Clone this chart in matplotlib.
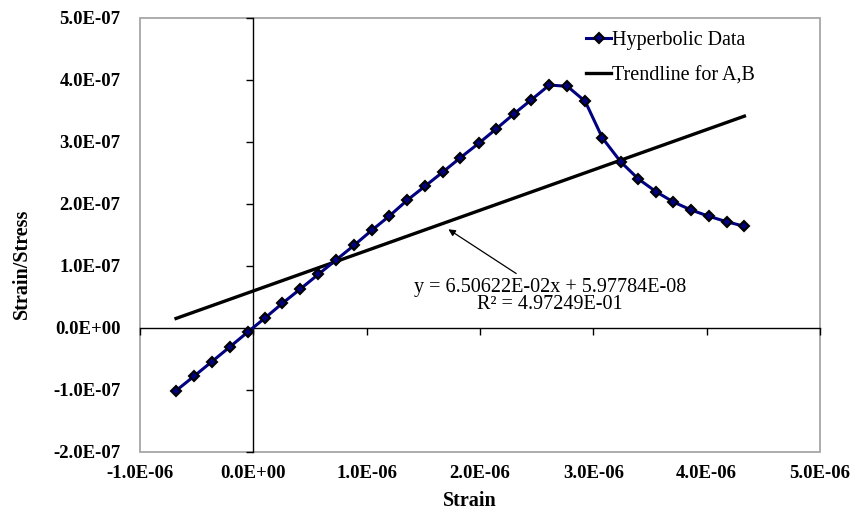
import numpy as np
import matplotlib
matplotlib.use("Agg")
import matplotlib.pyplot as plt
from matplotlib.patches import Rectangle
from matplotlib.ticker import FuncFormatter

# measured strain and the strain/stress ratio
strain = [-0.682, -0.521, -0.367, -0.208, -0.049, 0.106, 0.256, 0.415, 0.574, 0.730,
          0.889, 1.045, 1.200, 1.357, 1.513, 1.672, 1.827, 1.989, 2.142, 2.298,
          2.454, 2.612, 2.771, 2.928, 3.080, 3.243, 3.398, 3.557, 3.707, 3.863,
          4.019, 4.175, 4.333]
ratio = [-1.011, -0.774, -0.544, -0.306, -0.065, 0.166, 0.398, 0.630, 0.866, 1.097,
         1.334, 1.576, 1.806, 2.060, 2.285, 2.516, 2.747, 2.979, 3.210, 3.452,
         3.682, 3.919, 3.898, 3.656, 3.065, 2.677, 2.403, 2.194, 2.032, 1.903,
         1.802, 1.715, 1.640]
x = np.array(strain) * 1e-6
y = np.array(ratio) * 1e-7

# linear fit A,B
slope = 6.50622e-02
intercept = 5.97784e-08
r2 = 4.97249e-01

xticks = np.arange(-1, 5.01, 1) * 1e-6
yticks = np.arange(-2, 5.01, 1) * 1e-7

plt.rcParams["font.family"] = ["Liberation Serif", "DejaVu Serif"]

W, H = 857, 514
fig = plt.figure(figsize=(W / 100, H / 100), dpi=100)
ax = fig.add_axes([140 / W, 1 - 452 / H, 680 / W, 434 / H])
ax.set_xlim(-1e-6, 5e-6)
ax.set_ylim(-2e-7, 5e-7)

# grey plot-area frame
for s in ["top", "right"]:
    ax.spines[s].set_visible(False)
ax.add_patch(Rectangle((0, 0), 1, 1, transform=ax.transAxes, fill=False,
                       edgecolor="#a6a6a6", lw=1.3, clip_on=False, zorder=1))

# axes through the origin
for s in ["left", "bottom"]:
    ax.spines[s].set_position(("data", 0))
    ax.spines[s].set_color("black")
    ax.spines[s].set_linewidth(1.0)
ax.set_xticks(xticks)
ax.set_yticks(yticks)
ax.tick_params(direction="out", length=5, width=1, colors="black",
               labelbottom=False, labelleft=False)

fmt = FuncFormatter(lambda v, p: f"{v:.1E}")
secx = ax.secondary_xaxis(0)
secx.set_xticks(xticks)
secx.xaxis.set_major_formatter(fmt)
secx.tick_params(length=0, pad=9, labelsize=13.5)
secx.spines["bottom"].set_visible(False)
secy = ax.secondary_yaxis(0)
secy.set_yticks(yticks)
secy.yaxis.set_major_formatter(fmt)
secy.tick_params(length=0, pad=14, labelsize=13.5)
secy.spines["left"].set_visible(False)
for lab in secx.get_xticklabels() + secy.get_yticklabels():
    lab.set_fontweight("bold")

ax.plot(x, y, color="#000080", lw=2.2, marker="D", ms=5.2, mfc="#000080",
        mec="black", mew=1.5, label="Hyperbolic Data", zorder=4)
xt = np.array([x.min(), x.max()])
ax.plot(xt, slope * xt + intercept, color="black", lw=2.4,
        label="Trendline for A,B", zorder=3)

ax.annotate(f"y = {slope:.5E}x + {intercept:.5E}\nR² = {r2:.5E}",
            xy=(1.721e-6, 1.592e-7), xytext=(2.62e-6, 0.52e-7),
            ha="center", va="center", fontsize=14.5, linespacing=0.85,
            arrowprops=dict(arrowstyle="-|>", color="black", lw=0.9,
                            mutation_scale=10, shrinkA=2, shrinkB=0))

ax.legend(loc="upper left", bbox_to_anchor=(586 / W, 1 - 31 / H),
          bbox_transform=fig.transFigure, frameon=False, fontsize=14.5,
          handlelength=1.25, handletextpad=0.05, labelspacing=0.8,
          borderpad=0, borderaxespad=0)

fig.text(22 / W, 1 - 264 / H, "Strain/Stress", rotation=90, ha="center",
         va="center", fontsize=14.5, fontweight="bold")
fig.text(470 / W, 1 - 501 / H, "Strain", ha="center", va="center",
         fontsize=14.5, fontweight="bold")

fig.savefig("out.png", dpi=100)
